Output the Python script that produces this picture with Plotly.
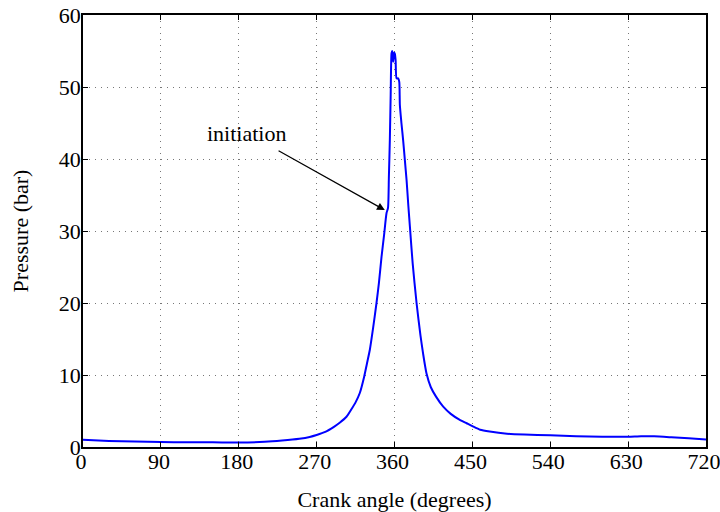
import plotly.graph_objects as go

crank_angle = [0, 30, 60, 90, 120, 150, 180, 210, 230, 250, 262, 270, 280, 290, 297, 304.5, 310,
               315, 319.9, 325, 328, 331.5, 335, 339.2, 342, 345, 348, 350.8, 352.5, 353.5,
               354.6, 355.6, 356.6, 357.4, 358.4, 359.5, 360.4, 361.3, 362.4, 364.2, 365.5,
               366.2, 368, 370, 372, 374, 376, 377.8, 381, 385.5, 390, 393, 397, 402, 408,
               416.3, 425, 435, 443.4, 450, 459, 470, 490, 510, 540, 570, 600, 630, 645, 660,
               680, 700, 720]
pressure = [1.0, 0.85, 0.75, 0.68, 0.65, 0.65, 0.62, 0.72, 0.9, 1.15, 1.4, 1.67, 2.1, 2.8, 3.4,
            4.2, 5.2, 6.2, 7.5, 9.8, 11.5, 13.5, 16.3, 20, 22.8, 26.4, 29.5, 32.5, 33.2, 37.5,
            42.6, 49, 54.7, 55, 53.5, 54.8, 54.6, 53.7, 51.2, 51.2, 50.7, 47.5, 45, 42.6,
            39.8, 37, 33.5, 30.6, 25.5, 20, 15.5, 13, 10.2, 8.3, 7, 5.6, 4.6, 3.8, 3.3, 2.9,
            2.4, 2.15, 1.85, 1.72, 1.62, 1.48, 1.42, 1.43, 1.5, 1.48, 1.35, 1.2, 1.05]

x_ticks = [0, 90, 180, 270, 360, 450, 540, 630, 720]
y_ticks = [0, 10, 20, 30, 40, 50, 60]

font = dict(family="Liberation Serif, Times New Roman, serif", size=22, color="black")

fig = go.Figure()
fig.add_trace(go.Scatter(x=crank_angle, y=pressure, mode="lines",
                         line=dict(color="#0000ff", width=2, shape="spline", smoothing=0.6),
                         showlegend=False))

axis_common = dict(showline=True, linecolor="black", linewidth=1.5, mirror="ticks",
                   ticks="inside", ticklen=5, tickcolor="black", tickwidth=1,
                   showgrid=True, gridcolor="#777777", griddash="1px,5px", gridwidth=1,
                   zeroline=False, tickfont=font, automargin=False,
                   ticklabeloverflow="allow")

fig.update_xaxes(range=[0, 720], tickvals=x_ticks, ticktext=[str(v) for v in x_ticks],
                 ticklabelstandoff=-6, ticklabelshift=-2,
                 title=dict(text="Crank angle (degrees)", font=font, standoff=20),
                 **axis_common)
fig.update_yaxes(range=[0, 60], tickvals=y_ticks, ticktext=[str(v) for v in y_ticks],
                 ticklabelstandoff=-4,
                 title=dict(text="Pressure (bar)", font=font, standoff=24),
                 **axis_common)

fig.add_annotation(x=348.8, y=32.9, ax=224.3, ay=41.25, xref="x", yref="y",
                   axref="x", ayref="y", text="", showarrow=True,
                   arrowhead=2, arrowsize=1.3, arrowwidth=1.2, arrowcolor="black")
fig.add_annotation(x=188.8, y=43.5, xref="x", yref="y", text="initiation",
                   showarrow=False, font=font)

fig.update_layout(width=720, height=512, margin=dict(l=83, r=14, t=15, b=65),
                  plot_bgcolor="white", paper_bgcolor="white", font=font)

# remove the default page margin so the figure sits at the window's top-left corner
fig.write_html("out.html", config={"displayModeBar": False},
               post_script="document.body.style.margin='0';")
